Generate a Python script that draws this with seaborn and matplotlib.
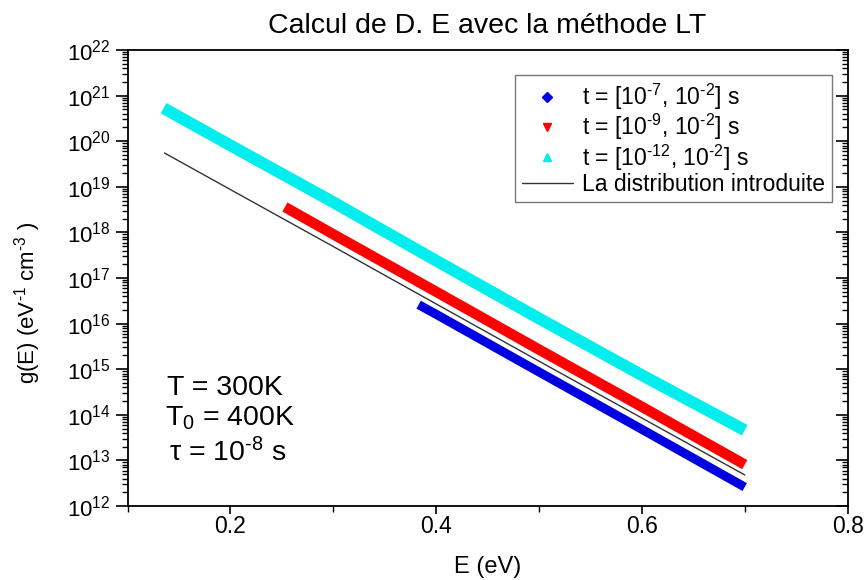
import numpy as np
import pandas as pd
import matplotlib
matplotlib.use("Agg")
import matplotlib.pyplot as plt
from matplotlib.lines import Line2D
from matplotlib.ticker import FixedLocator, LogFormatterSciNotation, NullFormatter
import seaborn as sns

# ---- data ----
E_blue = [0.383, 0.40, 0.50, 0.60, 0.70]
g_blue = [2.6e16, 1.6e16, 8.7e14, 4.8e13, 2.6e12]

E_red = [0.253, 0.30, 0.40, 0.50, 0.60, 0.70]
g_red = [3.6e18, 9.1e17, 5.0e16, 2.7e15, 1.5e14, 8.1e12]

E_cyan = [0.135, 0.20, 0.30, 0.40, 0.50, 0.60, 0.70]
g_cyan = [5.3e20, 8.1e19, 4.6e18, 2.4e17, 1.3e16, 7.4e14, 4.6e13]

E_dist = [0.136, 0.20, 0.30, 0.40, 0.50, 0.60, 0.70]
g_dist = [5.5e19, 8.7e18, 4.9e17, 2.7e16, 1.5e15, 8.5e13, 4.8e12]

x_major = [0.2, 0.4, 0.6, 0.8]
x_minor = [0.1, 0.3, 0.5, 0.7]
y_exponents = list(range(12, 23))

labels = [r"t = [10$^{\text{-7}}$, 10$^{\text{-2}}$] s",
          r"t = [10$^{\text{-9}}$, 10$^{\text{-2}}$] s",
          r"t = [10$^{\text{-12}}$, 10$^{\text{-2}}$] s",
          "La distribution introduite"]

sns.set_style("ticks")
plt.rcParams["font.family"] = ["Liberation Sans", "DejaVu Sans"]
plt.rcParams["mathtext.fontset"] = "custom"
plt.rcParams["mathtext.rm"] = "Liberation Sans"
plt.rcParams["mathtext.it"] = "Liberation Sans:italic"
plt.rcParams["mathtext.bf"] = "Liberation Sans:bold"
for k in ["text.color", "axes.labelcolor", "xtick.color", "ytick.color", "axes.edgecolor"]:
    plt.rcParams[k] = "black"

fig = plt.figure(figsize=(8.64, 5.8), dpi=100)
ax = fig.add_axes([0.1476, 0.1276, 0.8334, 0.7862])

C_BLUE = "#0000e0"
C_RED = "#ff0000"
C_CYAN = "#00eeee"
C_BLACK = "#333333"

df_blue = pd.DataFrame({"E": E_blue, "g": g_blue})
df_red = pd.DataFrame({"E": E_red, "g": g_red})
df_cyan = pd.DataFrame({"E": E_cyan, "g": g_cyan})
df_dist = pd.DataFrame({"E": E_dist, "g": g_dist})

sns.lineplot(data=df_cyan, x="E", y="g", ax=ax, color=C_CYAN, lw=8.5,
             solid_capstyle="butt", legend=False)
sns.lineplot(data=df_red, x="E", y="g", ax=ax, color=C_RED, lw=7.5,
             solid_capstyle="butt", legend=False)
sns.lineplot(data=df_dist, x="E", y="g", ax=ax, color=C_BLACK, lw=1.0,
             legend=False)
sns.lineplot(data=df_blue, x="E", y="g", ax=ax, color=C_BLUE, lw=6.5,
             solid_capstyle="butt", legend=False)

ax.set_yscale("log")
ax.set_xlim(0.1, 0.8)
ax.set_ylim(1e12, 1e22)
ax.xaxis.set_major_locator(FixedLocator(x_major))
ax.xaxis.set_minor_locator(FixedLocator(x_minor))
y_major = [10.0 ** e for e in y_exponents]
y_minor = [m * 10.0 ** e for e in y_exponents[:-1] for m in range(2, 10)]
ax.yaxis.set_major_locator(FixedLocator(y_major))
ax.yaxis.set_minor_locator(FixedLocator(y_minor))
ax.yaxis.set_major_formatter(LogFormatterSciNotation())
ax.yaxis.set_minor_formatter(NullFormatter())

for s in ax.spines.values():
    s.set_visible(True)
    s.set_linewidth(1.3)
    s.set_color("black")

ax.tick_params(axis="y", which="major", direction="out", length=9, width=1.2,
               labelsize=16, pad=3)
ax.tick_params(axis="y", which="minor", direction="out", length=4, width=1.0)
ax.tick_params(axis="x", which="major", direction="out", length=6, width=1.2,
               labelsize=16.5, pad=0.5)
ax.tick_params(axis="x", which="minor", direction="out", length=4, width=1.0)
ax.tick_params(axis="y", which="both", right=True)
ax.tick_params(axis="x", which="both", top=False)
# right side ticks point inward
for t in ax.yaxis.get_major_ticks() + ax.yaxis.get_minor_ticks():
    t.tick2line.set_marker(matplotlib.lines.TICKLEFT)

ax.set_xlabel("E (eV)", fontsize=17, labelpad=13)
ax.set_ylabel(r"g(E) (eV$^{\text{-1}}$ cm$^{\text{-3}}$ )", fontsize=16)
ax.yaxis.set_label_coords(-0.117, 0.445)
ax.set_title("Calcul de D. E avec la méthode LT", fontsize=20.5, pad=12)

handles = [
    Line2D([], [], ls="none", marker="D", color=C_BLUE, markersize=5),
    Line2D([], [], ls="none", marker="v", color=C_RED, markersize=6),
    Line2D([], [], ls="none", marker="^", color=C_CYAN, markersize=6),
    Line2D([], [], color=C_BLACK, lw=1.0),
]
leg = ax.legend(handles, labels, loc="upper right", bbox_to_anchor=(0.978, 0.945),
                borderaxespad=0, fontsize=16.5, frameon=True, fancybox=False,
                handlelength=2.2, handletextpad=0.4, labelspacing=0.0,
                borderpad=0.3)
leg.get_frame().set_edgecolor("#555555")
leg.get_frame().set_linewidth(1.0)

ax.text(0.055, 0.259, "T = 300K", transform=ax.transAxes, fontsize=20.5, va="center")
ax.text(0.052, 0.193, r"T$_\mathrm{0}$ = 400K", transform=ax.transAxes, fontsize=20.5, va="center")
ax.text(0.057, 0.116, r"τ = 10$^{\text{-8}}$ s", transform=ax.transAxes, fontsize=20.5, va="center")

fig.savefig("out.png", dpi=100)
